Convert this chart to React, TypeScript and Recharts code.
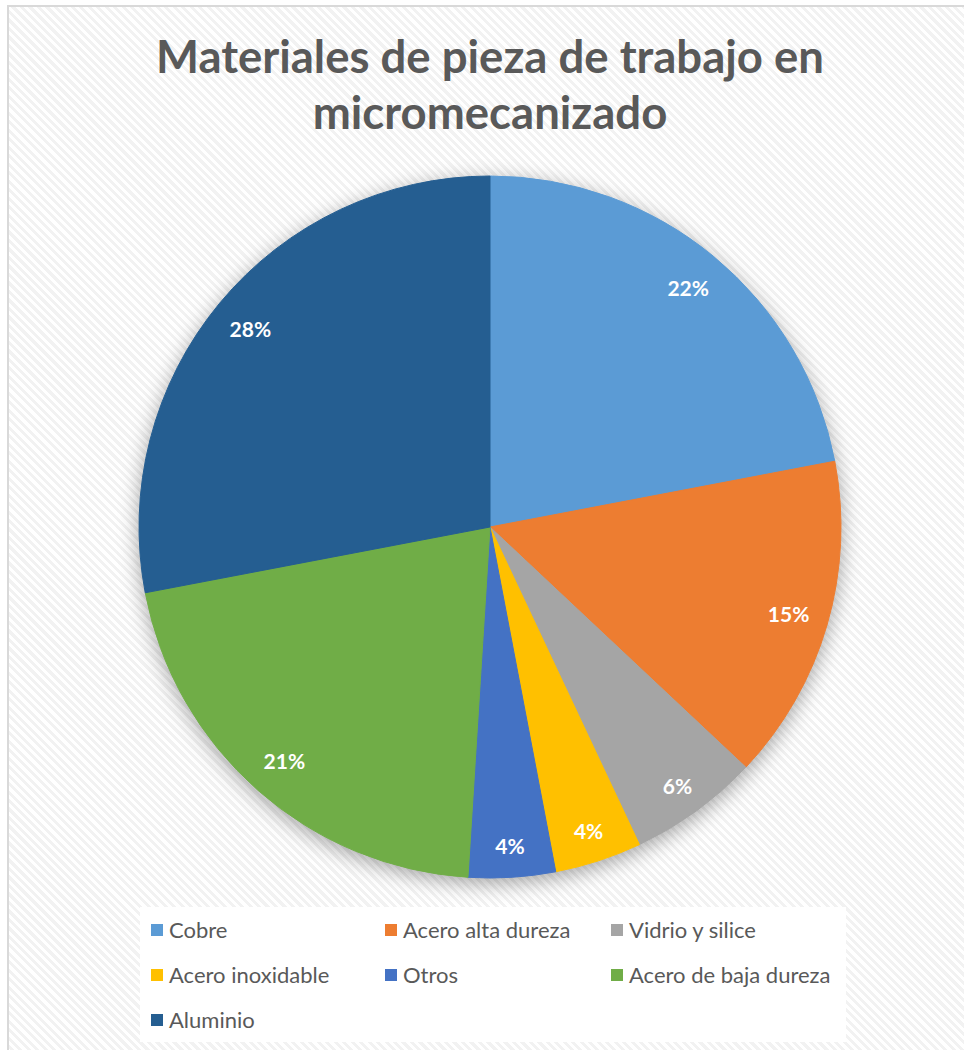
import React from 'react';
import { PieChart, Pie, Cell, Legend } from 'recharts';

const materials = [
  'Cobre',
  'Acero alta dureza',
  'Vidrio y silice',
  'Acero inoxidable',
  'Otros',
  'Acero de baja dureza',
  'Aluminio',
];
const shares = [22, 15, 6, 4, 4, 21, 28];
const sliceColors = ['#5B9BD5', '#ED7D31', '#A5A5A5', '#FFC000', '#4472C4', '#70AD47', '#255E91'];

const data = materials.map((name, i) => ({ name, value: shares[i] }));

const FONT = 'Lato, "Open Sans", sans-serif';
const RADIAN = Math.PI / 180;

// labels sit near the outer edge; thin slices get pushed a bit further out
const renderLabel = (props: any) => {
  const { cx, cy, midAngle, outerRadius, percent } = props;
  const r = outerRadius - (percent < 0.1 ? 32 : 40);
  const x = cx + r * Math.cos(-midAngle * RADIAN);
  const y = cy + r * Math.sin(-midAngle * RADIAN);
  return (
    <text
      x={x}
      y={y}
      fill="#fff"
      textAnchor="middle"
      dominantBaseline="central"
      fontFamily={FONT}
      fontWeight={700}
      fontSize={21}
    >
      {`${Math.round(percent * 100)}%`}
    </text>
  );
};

const LegendGrid = () => (
  <div
    style={{
      display: 'grid',
      gridTemplateColumns: '234px 226px 240px',
      padding: '0 0 0 11px',
      background: '#fff',
      height: 135,
      boxSizing: 'border-box',
    }}
  >
    {materials.map((name, i) => (
      <div
        key={name}
        style={{
          display: 'flex',
          alignItems: 'center',
          height: 45,
          fontFamily: FONT,
          fontSize: 22,
          color: '#595959',
          whiteSpace: 'nowrap',
        }}
      >
        <span style={{ width: 12, height: 12, background: sliceColors[i], marginRight: 6, display: 'inline-block' }} />
        {name}
      </div>
    ))}
  </div>
);

export default function App() {
  return (
    <div style={{ position: 'relative', width: 964, height: 1050, overflow: 'hidden' }}>
      <style>{`
        body { margin: 0; }
        .recharts-pie { filter: drop-shadow(0 5px 10px rgba(0,0,0,0.35)); }
      `}</style>
      <div
        style={{
          position: 'absolute',
          left: 7,
          top: 5,
          width: 980,
          height: 1080,
          border: '2px solid #d9d9d9',
          background:
            'repeating-linear-gradient(45deg, #ffffff 0px, #ffffff 3px, #f2f2f2 3px, #f2f2f2 6px)',
        }}
      />
      <div
        style={{
          position: 'absolute',
          left: 0,
          top: 28,
          width: 980,
          textAlign: 'center',
          fontFamily: FONT,
          fontWeight: 700,
          fontSize: 45.5,
          lineHeight: '56px',
          color: '#595959',
        }}
      >
        Materiales de pieza de trabajo en
        <br />
        micromecanizado
      </div>
      <div style={{ position: 'absolute', left: 0, top: 0 }}>
        <PieChart width={964} height={1050} margin={{ top: 0, right: 0, bottom: 0, left: 0 }}>
          <Pie
            data={data}
            dataKey="value"
            nameKey="name"
            cx={490}
            cy={527}
            outerRadius={351}
            startAngle={90}
            endAngle={-270}
            label={renderLabel}
            labelLine={false}
            isAnimationActive={false}
          >
            {data.map((d, i) => (
              <Cell key={d.name} fill={sliceColors[i]} stroke={sliceColors[i]} />
            ))}
          </Pie>
          <Legend
            content={<LegendGrid />}
            wrapperStyle={{ left: 140, top: 907, width: 706, height: 135, bottom: 'auto' }}
          />
        </PieChart>
      </div>
    </div>
  );
}
